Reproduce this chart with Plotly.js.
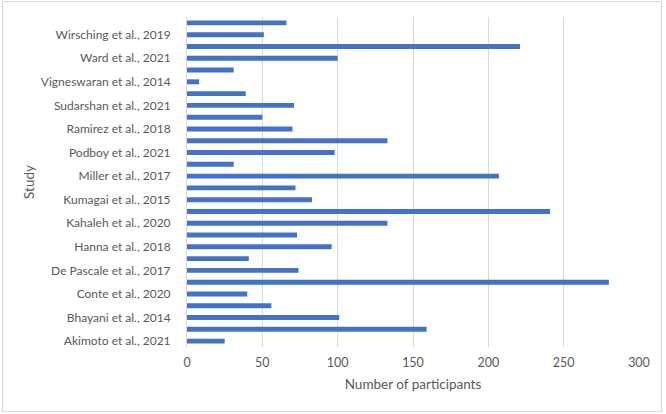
<!DOCTYPE html>
<html><head><meta charset="utf-8">
<script src="https://cdn.plot.ly/plotly-3.0.1.min.js"></script>
<style>
html,body{margin:0;padding:0;background:#fff;}
#wrap{position:relative;width:666px;height:414px;}
#chart{position:absolute;left:0;top:0;width:666px;height:414px;}
#frame{position:absolute;left:2px;top:1px;width:658px;height:409px;border:1px solid #d9d9d9;pointer-events:none;}
</style>
</head><body>
<div id="wrap"><div id="chart"></div><div id="frame"></div></div>
<script>
// Studies from bottom to top (every other label is shown in the reference)
var studies = [
  "Akimoto et al., 2021", "Study 2",
  "Bhayani et al., 2014", "Study 4",
  "Conte et al., 2020", "Study 6",
  "De Pascale et al., 2017", "Study 8",
  "Hanna et al., 2018", "Study 10",
  "Kahaleh et al., 2020", "Study 12",
  "Kumagai et al., 2015", "Study 14",
  "Miller et al., 2017", "Study 16",
  "Podboy et al., 2021", "Study 18",
  "Ramirez et al., 2018", "Study 20",
  "Sudarshan et al., 2021", "Study 22",
  "Vigneswaran et al., 2014", "Study 24",
  "Ward et al., 2021", "Study 26",
  "Wirsching et al., 2019", "Study 28"
];
var participants = [25, 159, 101, 56, 40, 280, 74, 41, 96, 73, 133, 241, 83, 72, 207, 31, 98, 133, 70, 50, 71, 39, 8, 31, 100, 221, 51, 66];
var shownLabels = ["Akimoto et al., 2021","Bhayani et al., 2014","Conte et al., 2020","De Pascale et al., 2017","Hanna et al., 2018","Kahaleh et al., 2020","Kumagai et al., 2015","Miller et al., 2017","Podboy et al., 2021","Ramirez et al., 2018","Sudarshan et al., 2021","Vigneswaran et al., 2014","Ward et al., 2021","Wirsching et al., 2019"];
var xTicks = [0, 50, 100, 150, 200, 250, 300];

var font = "Lato, 'Open Sans', sans-serif";
var trace = {
  type: "bar", orientation: "h",
  x: participants, y: studies,
  marker: {color: "#4472C4"},
  hoverinfo: "x+y"
};
var layout = {
  width: 666, height: 414,
  margin: {l: 187, r: 27, t: 17, b: 67},
  paper_bgcolor: "#ffffff", plot_bgcolor: "#ffffff",
  bargap: 0.58,
  showlegend: false,
  font: {family: font, color: "#595959", size: 12},
  xaxis: {
    range: [0, 300], tickvals: xTicks, ticktext: xTicks.map(String),
    showgrid: true, gridcolor: "#d9d9d9", gridwidth: 1,
    zeroline: false, showline: false, ticks: "",
    ticklabelstandoff: 6,
    tickfont: {family: font, size: 12.5, color: "#595959"},
    title: {text: "Number of participants", font: {family: font, size: 13.5, color: "#595959"}, standoff: 11},
    fixedrange: true
  },
  yaxis: {
    type: "category", categoryorder: "array", categoryarray: studies,
    tickvals: shownLabels, ticktext: shownLabels,
    showgrid: false, zeroline: false, showline: true, linecolor: "#d9d9d9", ticks: "",
    ticklabelstandoff: 13,
    tickfont: {family: font, size: 12, color: "#595959"},
    range: [-0.5, 27.5],
    fixedrange: true
  },
  annotations: [{
    text: "Study", xref: "paper", yref: "paper", x: -0.3496, y: 0.5,
    xanchor: "center", yanchor: "middle", textangle: -90, showarrow: false,
    font: {family: font, size: 13.5, color: "#595959"}
  }]
};
Plotly.newPlot("chart", [trace], layout, {displayModeBar: false, staticPlot: true});
</script>
</body></html>
